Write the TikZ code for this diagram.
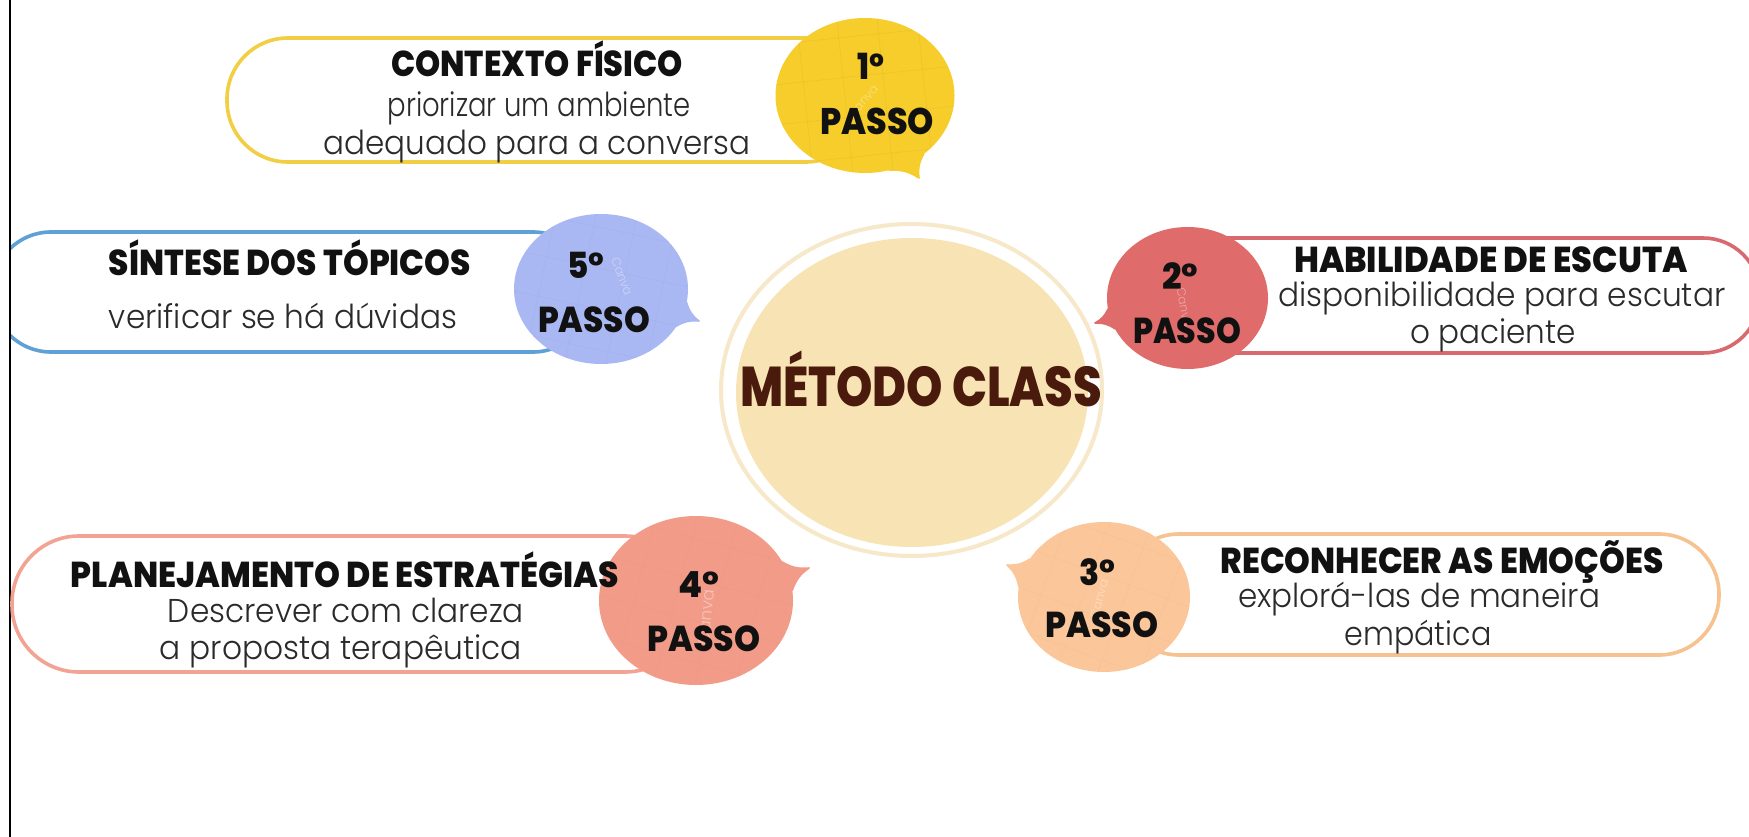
\documentclass[tikz,border=0pt]{standalone}
\usepackage{fontspec}
\usetikzlibrary{shapes.geometric}
\newfontfamily\headf{Poppins ExtraBold}
\newfontfamily\bodyf{Poppins Light}
\definecolor{ylw}{HTML}{F6CD2B}\definecolor{ylwl}{HTML}{F2CE45}
\definecolor{blu}{HTML}{A9B8F3}\definecolor{blul}{HTML}{5FA0D6}
\definecolor{red}{HTML}{E06B6B}\definecolor{redl}{HTML}{D8696E}
\definecolor{org}{HTML}{FBC699}\definecolor{orgl}{HTML}{F6C28F}
\definecolor{sal}{HTML}{F29B88}\definecolor{sall}{HTML}{F2A393}
\definecolor{creamin}{HTML}{F8E3B5}\definecolor{creamout}{HTML}{F6E8C9}
\definecolor{brownt}{HTML}{4A1A0C}\definecolor{inkt}{HTML}{111111}\definecolor{bodyt}{HTML}{2A2A2A}
\newcommand{\hd}[3]{\resizebox{#1pt}{\height}{\fontsize{#2}{#2}\headf #3}}
\newcommand{\bd}[2]{\resizebox{#1pt}{\height}{\fontsize{33}{33}\bodyf #2}}
\tikzset{
  x=1pt,y=-1pt,
  pill/.style={draw=#1,line width=3.6pt,fill=white,inner sep=0pt,outer sep=0pt,anchor=north west},
  bubbleshape/.style={ellipse,fill=#1,inner sep=0pt,outer sep=0pt},
  txt/.style={inner sep=0pt,anchor=base,text=inkt},
  bodytxt/.style={inner sep=0pt,anchor=base,text=bodyt},
  wmark/.style={inner sep=0pt,anchor=base,text=white,opacity=.4,font=\fontsize{12}{12}\bodyf}
}
% name, cx, cy, w, h, colour, tip x, tip y, angle a (angle b in \tailb)
\newcommand{\bubble}[9]{%
  \node[bubbleshape=#6,minimum width=#4pt,minimum height=#5pt] (#1) at (#2,#3) {};
  \coordinate (#1tip) at (#7,#8);
  \filldraw[#6,line width=1.6pt,line join=round] (#1.#9) to[bend right=18] (#1tip) to[bend right=18] (#1.\tailb) -- (#1.center) -- cycle;
}
% faint grid inside a bubble: cx, cy, rx, ry, rotation, shade
\newcommand{\bubblegrid}[6]{%
  \begin{scope}
  \clip (#1,#2) ellipse [x radius=#3,y radius=#4];
  \begin{scope}[rotate around={#5:(#1,#2)}]
  \foreach \d in {-100,-60,-20,20,60,100} {
    \draw[#6,opacity=.35,line width=.6pt] (#1+\d,#2-110) -- (#1+\d,#2+110);
    \draw[#6,opacity=.35,line width=.6pt] (#1-110,#2+\d) -- (#1+110,#2+\d);
  }
  \end{scope}
  \end{scope}
}
\begin{document}
\begin{tikzpicture}
\useasboundingbox (0,0) rectangle (1749,837);
\fill[white] (0,0) rectangle (1749,837);
\coordinate (ltop) at (10,0); \coordinate (lbot) at (10,837);
\draw[black,line width=1.3pt] (ltop) -- (lbot);

% centre
\node[ellipse,draw=creamout,line width=4pt,minimum width=381pt,minimum height=332pt,inner sep=0pt,outer sep=0pt] (ring) at (911.5,390) {};
\node[ellipse,fill=creamin,minimum width=352pt,minimum height=309pt,inner sep=0pt] (core) at (912,392.5) {};
\node[txt,text=brownt] (title) at (921,406) {\hd{362}{56}{MÉTODO CLASS}};

% pills
\node[pill=ylwl,rounded corners=61pt,minimum width=640pt,minimum height=124pt] (p1) at (227,38) {};
\begin{scope}
\clip (11,200) rectangle (700,370);
\node[pill=blul,rounded corners=59pt,minimum width=600pt,minimum height=120pt] (p5) at (-8,232) {};
\end{scope}
\node[pill=redl,rounded corners=57pt,minimum width=600pt,minimum height=115pt] (p2) at (1160,238) {};
\node[pill=orgl,rounded corners=60pt,minimum width=600pt,minimum height=121pt] (p3) at (1119,534) {};
\node[pill=sall,rounded corners=67pt,minimum width=680pt,minimum height=136pt] (p4) at (12,536) {};

% bubbles
\def\tailb{-72}
\bubble{b1}{865}{95.5}{179}{155}{ylw}{919}{178}{-45}
\bubblegrid{865}{95.5}{89.5}{77.5}{6}{ylw!88!black}
\def\tailb{-26}
\bubble{b5}{601}{289}{174}{150}{blu}{699}{321}{-9}
\bubblegrid{601}{289}{87}{75}{-12}{blu!92!black}
\def\tailb{-172.6}
\bubble{b2}{1187.5}{298}{161}{142}{red}{1095}{323}{-157}
\def\tailb{153}
\bubble{b3}{1104}{597}{172}{150}{org}{1007}{565}{173}
\bubblegrid{1104}{597}{86}{75}{-20}{org!85!brown}
\def\tailb{6}
\bubble{b4}{696}{600.5}{194}{169}{sal}{809}{568}{24}
\bubblegrid{696}{600.5}{97}{84.5}{-15}{sal!88!brown}

% watermarks
\node[wmark,rotate=50] (w1) at (866,104) {Canva};
\node[wmark,rotate=-70] (w5) at (618,278) {Canva};
\node[wmark,rotate=-80] (w2) at (1180,308) {Canva};
\node[wmark,rotate=75] (w3) at (1103,600) {Canva};
\node[wmark,rotate=85,font=\fontsize{17}{17}\bodyf] (w4) at (712,618) {Canva};

% bubble labels
\node[txt] (n1) at (871,80) {\hd{27}{36}{1°}};
\node[txt] (s1) at (877,135) {\hd{114}{37}{PASSO}};
\node[txt] (n5) at (586,278) {\hd{37}{36}{5°}};
\node[txt] (s5) at (594,332) {\hd{112}{36}{PASSO}};
\node[txt] (n2) at (1180,290) {\hd{36}{36}{2°}};
\node[txt] (s2) at (1187,343) {\hd{108}{36}{PASSO}};
\node[txt] (n3) at (1097,585) {\hd{36}{36}{3°}};
\node[txt] (s3) at (1102,637) {\hd{113}{36}{PASSO}};
\node[txt] (n4) at (699,597) {\hd{41}{36}{4°}};
\node[txt] (s4) at (704,651) {\hd{113}{36}{PASSO}};

% texts
\node[txt] (h1) at (537,77) {\hd{292}{36}{CONTEXTO FÍSICO}};
\node[bodytxt] (t1a) at (539,117) {\bd{303}{priorizar um ambiente}};
\node[bodytxt] (t1b) at (537,155) {\bd{427}{adequado para a conversa}};
\node[txt] (h5) at (290,276) {\hd{362}{36}{SÍNTESE DOS TÓPICOS}};
\node[bodytxt] (t5) at (283,328) {\bd{348}{verificar se há dúvidas}};
\node[txt] (h2) at (1491,273) {\hd{394}{36}{HABILIDADE DE ESCUTA}};
\node[bodytxt] (t2a) at (1502,306) {\bd{447}{disponibilidade para escutar}};
\node[bodytxt] (t2b) at (1493,343) {\bd{166}{o paciente}};
\node[txt] (h3) at (1442,573) {\hd{443}{36}{RECONHECER AS EMOÇÕES}};
\node[bodytxt] (t3a) at (1419,607) {\bd{362}{explorá-las de maneira}};
\node[bodytxt] (t3b) at (1418,645) {\bd{147}{empática}};
\node[txt] (h4) at (345,587) {\hd{548}{36}{PLANEJAMENTO DE ESTRATÉGIAS}};
\node[bodytxt] (t4a) at (346,622) {\bd{356}{Descrever com clareza}};
\node[bodytxt] (t4b) at (341,659) {\bd{362}{a proposta terapêutica}};
\end{tikzpicture}
\end{document}
